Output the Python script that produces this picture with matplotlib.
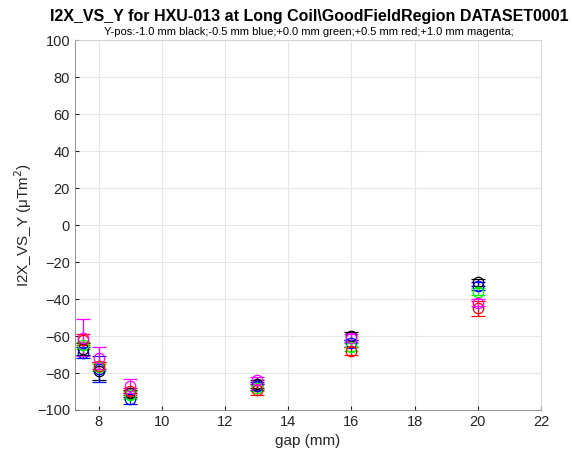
import numpy as np
import matplotlib.pyplot as plt

plt.rcParams['font.family'] = ['Liberation Sans', 'DejaVu Sans']

gap = [7.5, 8, 9, 13, 16, 20]
labels = ['-1.0 mm', '-0.5 mm', '+0.0 mm', '+0.5 mm', '+1.0 mm']
colors = ['black', 'blue', '#00ff00', 'red', 'magenta']

# I2X vs Y values per y-position (uTm^2) and their error bars
vals = {
    '-1.0 mm': [-67, -79, -91, -86, -60, -31],
    '-0.5 mm': [-69, -78, -94, -87, -64, -33],
    '+0.0 mm': [-65, -77, -92, -88, -66, -36],
    '+0.5 mm': [-62, -76, -90, -89, -68, -45],
    '+1.0 mm': [-61, -72, -87, -84, -61, -42],
}
errs = {
    '-1.0 mm': [3, 5, 2, 2, 2, 2],
    '-0.5 mm': [3, 7, 3, 2, 2, 2],
    '+0.0 mm': [2, 2, 2, 2, 2, 2],
    '+0.5 mm': [3, 2, 2, 3, 2, 4],
    '+1.0 mm': [10, 6, 4, 2, 2, 2],
}

fig = plt.figure(figsize=(5.72, 4.62), dpi=100)
ax = fig.add_axes([0.131, 0.1126, 0.815, 0.8004])

for lab, c in zip(labels, colors):
    ax.errorbar(gap, vals[lab], yerr=errs[lab], fmt='o', mfc='none', mec=c,
                ecolor=c, ms=7.5, mew=0.9, elinewidth=0.9, capsize=5,
                capthick=0.9)

ax.set_xlim(7.25, 22)
ax.set_ylim(-100, 100)
ax.set_xticks(np.arange(8, 23, 2))
ax.set_yticks(np.arange(-100, 101, 20))
ax.grid(True, color='#e6e6e6', linewidth=0.8)
ax.set_axisbelow(True)
for s in ax.spines.values():
    s.set_color('#808080')
    s.set_linewidth(0.6)
ax.spines['top'].set_color('#d0d0d0')
ax.spines['right'].set_color('#d0d0d0')
ax.tick_params(labelsize=10.5, colors='#262626', direction='in', length=3)

ax.set_xlabel('gap (mm)', fontsize=11, color='#262626')
ax.set_ylabel('I2X_VS_Y (\u03bcTm$^2$)', fontsize=11, color='#262626', labelpad=2)
fig.text(0.54, 0.955, r'I2X_VS_Y for HXU-013 at Long Coil\GoodFieldRegion DATASET0001',
         ha='center', fontsize=11.5, fontweight='bold')
fig.text(0.54, 0.924, 'Y-pos:-1.0 mm black;-0.5 mm blue;+0.0 mm green;+0.5 mm red;+1.0 mm magenta;',
         ha='center', fontsize=8)

plt.savefig('out.png')
